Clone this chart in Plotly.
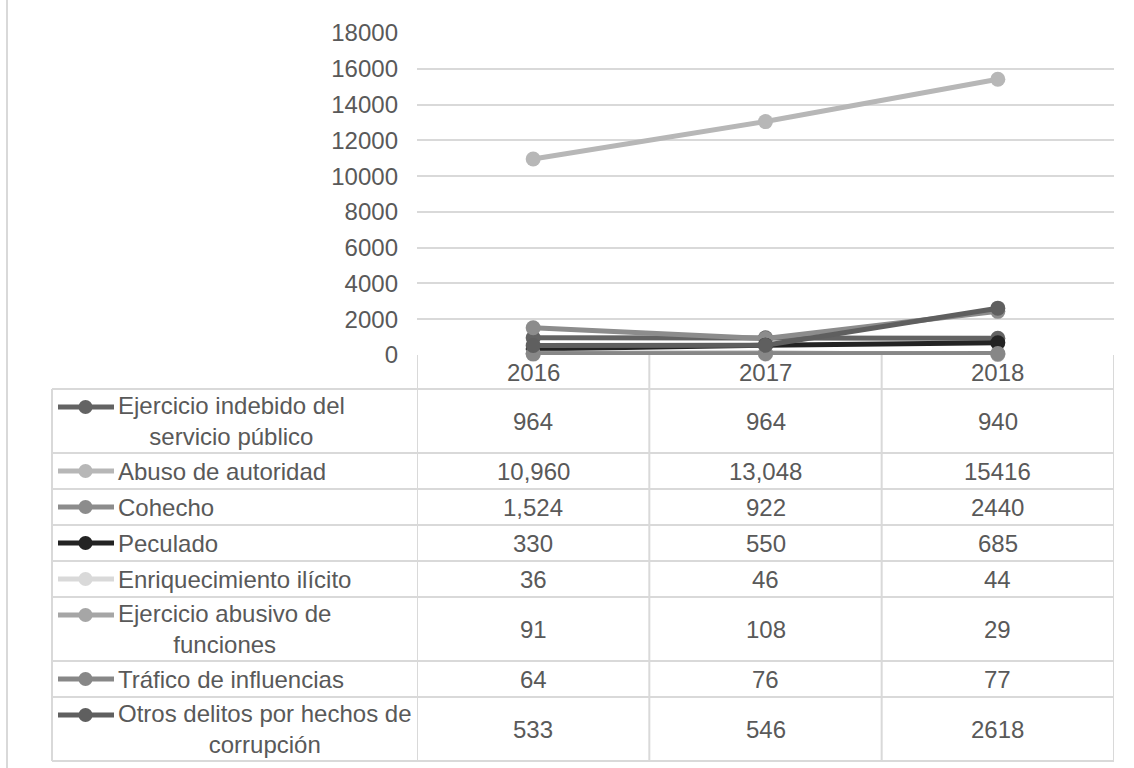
import plotly.graph_objects as go

W, H = 1134, 768

years = ["2016", "2017", "2018"]
series_names = [
    "Ejercicio indebido del<br>servicio público",
    "Abuso de autoridad",
    "Cohecho",
    "Peculado",
    "Enriquecimiento ilícito",
    "Ejercicio abusivo de<br>funciones",
    "Tráfico de influencias",
    "Otros delitos por hechos de<br>corrupción",
]
ejercicio_indebido = [964, 964, 940]
abuso_autoridad = [10960, 13048, 15416]
cohecho = [1524, 922, 2440]
peculado = [330, 550, 685]
enriquecimiento = [36, 46, 44]
ejercicio_abusivo = [91, 108, 29]
trafico = [64, 76, 77]
otros = [533, 546, 2618]
series_values = [ejercicio_indebido, abuso_autoridad, cohecho, peculado,
                 enriquecimiento, ejercicio_abusivo, trafico, otros]
y_ticks = [0, 2000, 4000, 6000, 8000, 10000, 12000, 14000, 16000, 18000]

colors = ["#636363", "#b7b7b7", "#8c8c8c", "#232323",
          "#d9d9d9", "#a6a6a6", "#878787", "#5f5f5f"]

FONT = "Arial, Liberation Sans, sans-serif"
TXT = "#595959"
GRID = "#d9d9d9"
FS = 24

# layout in pixels
PL, PR, PT, PB = 417, 1114, 33, 355
TL = 52
HEADER_B = 389
ROW1, ROW2 = 36, 64


def px(x):
    return x / W


def py(y):
    return 1 - y / H


fig = go.Figure()
for name, vals, c in zip(series_names, series_values, colors):
    fig.add_trace(go.Scatter(
        x=years, y=vals, mode="lines+markers", name=name.replace("<br>", " "),
        line=dict(color=c, width=5), marker=dict(color=c, size=15),
        showlegend=False, cliponaxis=False,
    ))

shapes = []
annotations = []

# header row with years (category index positions on the x scale)
for j, yr in enumerate(years):
    annotations.append(dict(
        x=j, xref="x", y=py((PB + HEADER_B) / 2), yref="paper",
        text=yr, showarrow=False, xanchor="center", yanchor="middle",
        font=dict(family=FONT, size=FS, color=TXT),
    ))

# rows
top = HEADER_B
row_bounds = [top]
for i, (name, vals, c) in enumerate(zip(series_names, series_values, colors)):
    nlines = name.count("<br>") + 1
    h = ROW1 if nlines == 1 else ROW2
    yc = top + h / 2
    icon_y = yc if nlines == 1 else yc - 14
    shapes.append(dict(type="line", xref="paper", yref="paper",
                       x0=px(58), x1=px(114), y0=py(icon_y), y1=py(icon_y),
                       line=dict(color=c, width=5)))
    shapes.append(dict(type="circle", xref="paper", yref="paper",
                       x0=px(85.5 - 7), x1=px(85.5 + 7),
                       y0=py(icon_y - 7), y1=py(icon_y + 7),
                       fillcolor=c, line=dict(color=c, width=0)))
    annotations.append(dict(
        x=px(116), xref="paper", y=py(yc), yref="paper", text=name,
        showarrow=False, xanchor="left", yanchor="middle", align="center",
        font=dict(family=FONT, size=FS, color=TXT),
    ))
    for j, yr in enumerate(years):
        v = vals[j]
        t = f"{v:,}" if yr != "2018" else str(v)
        annotations.append(dict(
            x=j, xref="x", y=py(yc), yref="paper", text=t,
            showarrow=False, xanchor="center", yanchor="middle",
            font=dict(family=FONT, size=FS, color=TXT),
        ))
    top += h
    row_bounds.append(top)

line_style = dict(color=GRID, width=2)
# horizontal table lines
for yb in row_bounds:
    shapes.append(dict(type="line", xref="paper", yref="paper",
                       x0=px(TL), x1=px(PR), y0=py(yb), y1=py(yb), line=line_style))
# vertical table lines at category boundaries
for xb in [-0.5, 0.5, 1.5, 2.5]:
    shapes.append(dict(type="line", xref="x", yref="paper",
                       x0=xb, x1=xb, y0=py(PB), y1=py(row_bounds[-1]), line=line_style))
shapes.append(dict(type="line", xref="paper", yref="paper",
                   x0=px(TL), x1=px(TL), y0=py(HEADER_B), y1=py(row_bounds[-1]), line=line_style))
# chart outer left border
shapes.append(dict(type="line", xref="paper", yref="paper",
                   x0=px(7), x1=px(7), y0=0, y1=1, line=line_style))

fig.update_layout(
    width=W, height=H, margin=dict(l=0, r=0, t=0, b=0, autoexpand=False),
    paper_bgcolor="white", plot_bgcolor="white",
    font=dict(family=FONT, size=FS, color=TXT),
    xaxis=dict(domain=[px(PL), px(PR)], type="category", range=[-0.5, 2.5],
               showticklabels=False, showgrid=False, zeroline=False,
               showline=False, ticks="", automargin=False),
    yaxis=dict(domain=[py(PB), py(PT)], range=[0, 18000], tickvals=y_ticks,
               tickformat="d", automargin=False,
               showgrid=True, gridcolor=GRID, gridwidth=2, zeroline=False,
               showline=False, ticks="", ticklabelstandoff=18,
               tickfont=dict(family=FONT, size=FS, color=TXT)),
    shapes=shapes, annotations=annotations,
)

fig.write_html(
    "out.html",
    config={"displayModeBar": False},
    post_script="document.body.style.margin='0';document.body.style.overflow='hidden';",
)
